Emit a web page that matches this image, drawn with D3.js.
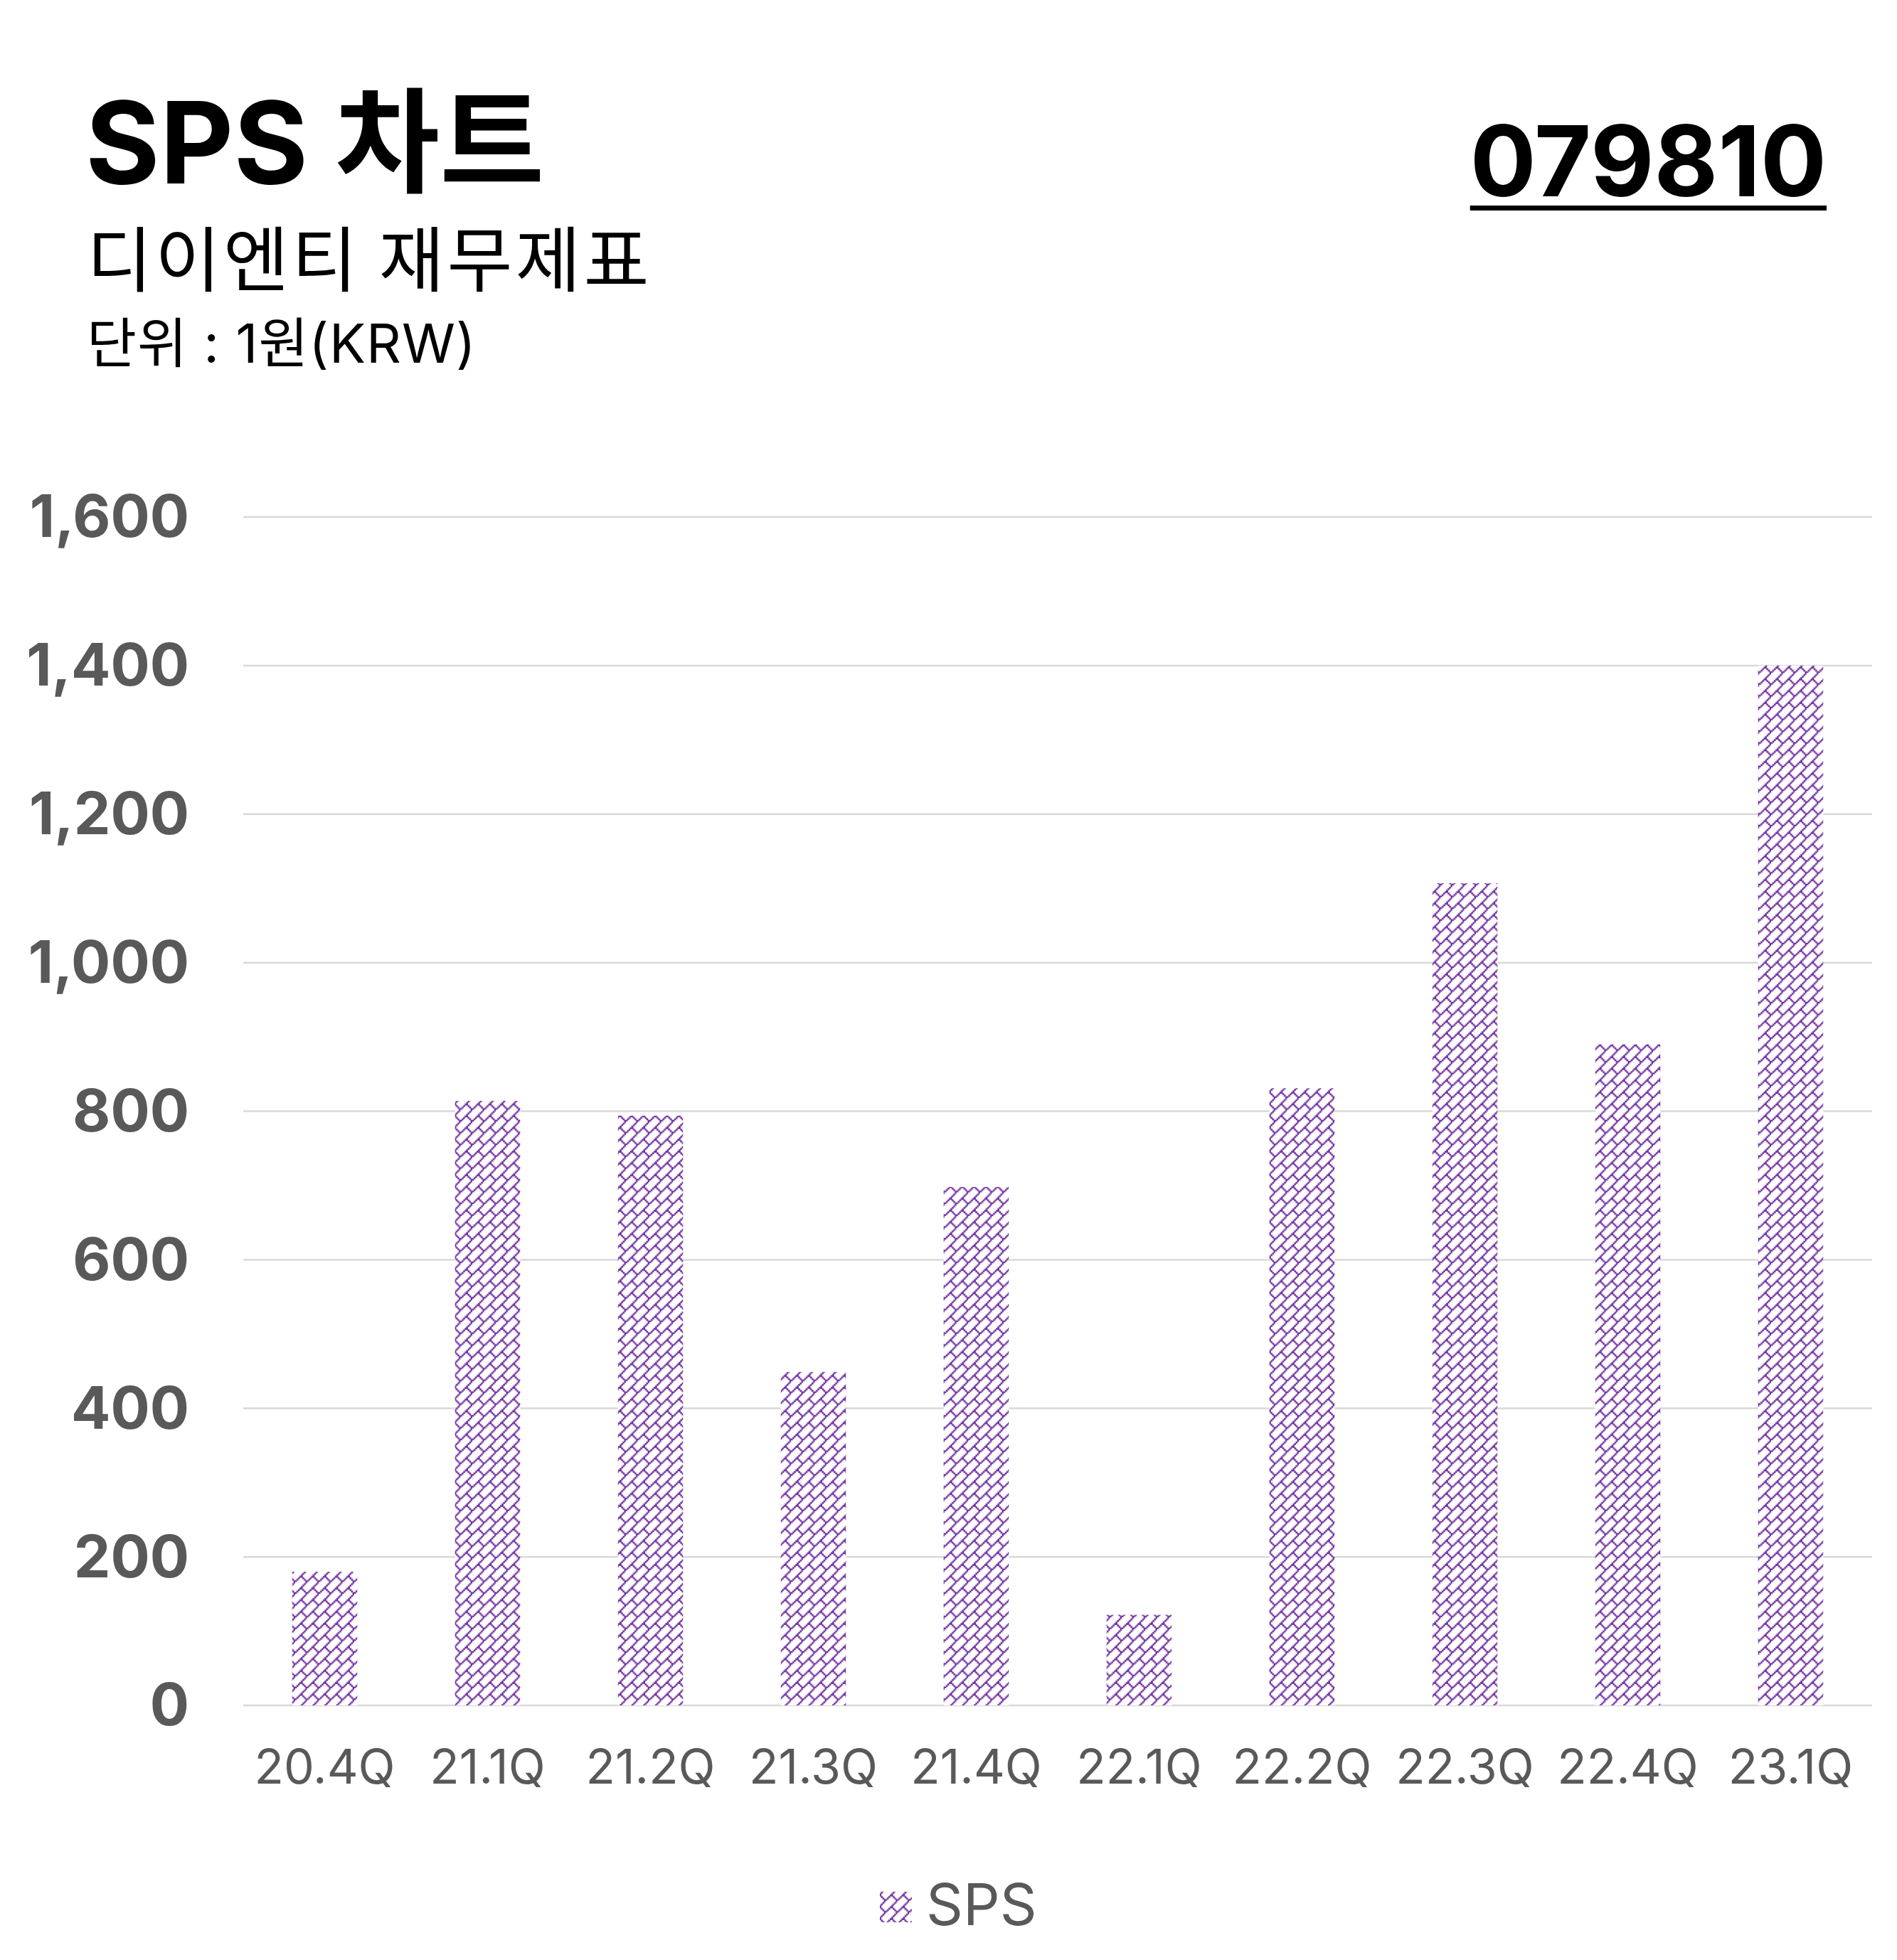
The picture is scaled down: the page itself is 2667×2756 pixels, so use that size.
<!DOCTYPE html>
<html>
<head>
<meta charset="utf-8">
<script src="https://cdn.jsdelivr.net/npm/d3@7"></script>
<style>
  html, body { margin: 0; padding: 0; background: #ffffff; }
  svg { display: block; }
</style>
</head>
<body>
<svg id="chart" width="2667" height="2756"></svg>
<script>
// ---- data ----
const categories = ["20.4Q", "21.1Q", "21.2Q", "21.3Q", "21.4Q", "22.1Q", "22.2Q", "22.3Q", "22.4Q", "23.1Q"];
const spsValues = [180, 814, 794, 449, 698, 122, 831, 1107, 890, 1400];
const yTicks = [0, 200, 400, 600, 800, 1000, 1200, 1400, 1600];
const seriesName = "SPS";
const titleText = "SPS 차트";
const subtitleText = "디이엔티 재무제표";
const unitText = "단위 : 1원(KRW)";
const codeText = "079810";

// ---- layout ----
const W = 2667, H = 2756;
const plot = { left: 342, right: 2632, top: 727, bottom: 2398 };
const FONT = "Inter, 'Noto Sans CJK KR', sans-serif";
const KFONT = "'Noto Sans CJK KR', Inter, sans-serif";
const GREY = "#595959";
const PURPLE = "#7030A0";

const svg = d3.select("#chart");

// pattern: diagonal brick
const cell = 16.6, px = cell / 8;
const bitmap = [
  "00000001",
  "00000010",
  "00000100",
  "00001000",
  "00011000",
  "00100100",
  "01000010",
  "10000001"
];
const defs = svg.append("defs");
const pat = defs.append("pattern")
  .attr("id", "brick")
  .attr("patternUnits", "userSpaceOnUse")
  .attr("width", cell).attr("height", cell);
pat.append("rect").attr("width", cell).attr("height", cell).attr("fill", "#ffffff");
bitmap.forEach((row, r) => {
  row.split("").forEach((c, k) => {
    if (c === "1") {
      pat.append("rect")
        .attr("x", k * px - 0.3).attr("y", r * px - 0.3)
        .attr("width", px + 0.6).attr("height", px + 0.6)
        .attr("fill", PURPLE);
    }
  });
});

// scales
const x = d3.scaleBand().domain(categories)
  .range([plot.left, plot.right])
  .paddingInner(0.6).paddingOuter(0.3);
const y = d3.scaleLinear().domain([0, 1600]).range([plot.bottom, plot.top]);

// gridlines
svg.append("g").selectAll("line").data(yTicks).join("line")
  .attr("x1", plot.left).attr("x2", plot.right)
  .attr("y1", d => y(d)).attr("y2", d => y(d))
  .attr("stroke", "#d9d9d9").attr("stroke-width", 2.5);

// y axis labels
const yAxis = d3.axisLeft(y).tickValues(yTicks).tickFormat(d3.format(",")).tickSize(0).tickPadding(0);
const yg = svg.append("g").attr("transform", `translate(266,0)`).call(yAxis);
yg.select(".domain").remove();
yg.selectAll("text")
  .attr("font-family", FONT).attr("font-size", 82).attr("font-weight", 700)
  .attr("fill", GREY).attr("dy", "0.34em").attr("x", 0);

// bars
svg.append("g").selectAll("rect").data(spsValues).join("rect")
  .attr("x", (d, i) => x(categories[i]))
  .attr("width", x.bandwidth())
  .attr("y", d => y(d))
  .attr("height", d => y(0) - y(d))
  .attr("fill", "url(#brick)");

// x axis labels
const xAxis = d3.axisBottom(x).tickSize(0).tickPadding(0);
const xg = svg.append("g").attr("transform", `translate(0,2508)`).call(xAxis);
xg.select(".domain").remove();
xg.selectAll("text")
  .attr("font-family", FONT).attr("font-size", 68).attr("font-weight", 400)
  .attr("fill", GREY).attr("dy", 0).attr("y", 0);

// titles
svg.append("text").attr("x", 120).attr("y", 258)
  .attr("font-family", FONT).attr("font-size", 160).attr("font-weight", 700)
  .attr("fill", "#000").text(titleText);
svg.append("text").attr("x", 122).attr("y", 402)
  .attr("font-family", KFONT).attr("font-size", 100).attr("font-weight", 400)
  .attr("letter-spacing", 4)
  .attr("fill", "#000").text(subtitleText);
svg.append("text").attr("x", 122).attr("y", 510)
  .attr("font-family", FONT).attr("font-size", 76).attr("font-weight", 400)
  .attr("letter-spacing", 1)
  .attr("fill", "#000").text(unitText);

// code with underline
const code = svg.append("text").attr("x", 2568).attr("y", 276)
  .attr("text-anchor", "end")
  .attr("font-family", FONT).attr("font-size", 138).attr("font-weight", 700)
  .attr("fill", "#000").text(codeText);
const bb = code.node().getBBox();
svg.append("rect").attr("x", bb.x).attr("y", 289)
  .attr("width", bb.width).attr("height", 7).attr("fill", "#000");

// legend
const lg = svg.append("g");
lg.append("rect").attr("x", 1237).attr("y", 2660).attr("width", 45).attr("height", 43)
  .attr("fill", "url(#brick)");
lg.append("text").attr("x", 1302).attr("y", 2707)
  .attr("font-family", FONT).attr("font-size", 81).attr("font-weight", 400)
  .attr("fill", GREY).text(seriesName);
</script>
</body>
</html>
